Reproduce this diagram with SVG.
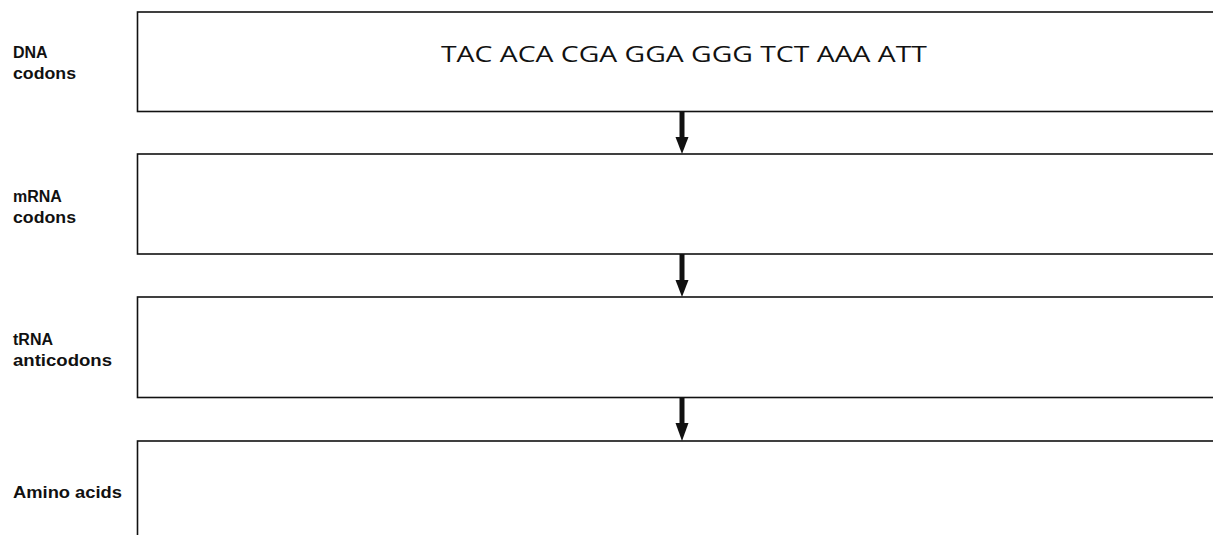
<svg xmlns="http://www.w3.org/2000/svg" width="1213" height="535" viewBox="0 0 1213 535">
<style>
.box{fill:#fff;stroke:#111;stroke-width:1.6}
.lbl{font-family:"Liberation Sans",Arial,sans-serif;font-weight:bold;font-size:16px;fill:#111}
.seq{font-family:"Open Sans","Liberation Sans",sans-serif;font-size:22px;fill:#111}
.arr{stroke:#111;stroke-width:5;fill:none}
.head{fill:#111}
</style>
<rect width="1213" height="535" fill="#fff"/>
<g id="dna">
<rect class="box" x="137.5" y="12" width="1090" height="99.5"/>
<text class="lbl" x="13" y="58">DNA</text>
<text class="lbl" x="13" y="79" textLength="63" lengthAdjust="spacingAndGlyphs">codons</text>
<text class="seq" x="441" y="62" textLength="486" lengthAdjust="spacingAndGlyphs">TAC ACA CGA GGA GGG TCT AAA ATT</text>
</g>
<g id="mrna">
<rect class="box" x="137.5" y="154" width="1090" height="100"/>
<text class="lbl" x="13" y="202">mRNA</text>
<text class="lbl" x="13" y="223" textLength="63" lengthAdjust="spacingAndGlyphs">codons</text>
</g>
<g id="trna">
<rect class="box" x="137.5" y="297" width="1090" height="100.5"/>
<text class="lbl" x="13" y="345">tRNA</text>
<text class="lbl" x="13" y="366" textLength="99" lengthAdjust="spacingAndGlyphs">anticodons</text>
</g>
<g id="amino">
<rect class="box" x="137.5" y="441" width="1090" height="120"/>
<text class="lbl" x="13" y="498" textLength="109" lengthAdjust="spacingAndGlyphs">Amino acids</text>
</g>
<g id="connectors">
<line class="arr" x1="682" y1="111" x2="682" y2="140"/>
<polygon class="head" points="675.5,137 688.5,137 682,154"/>
<line class="arr" x1="682" y1="254" x2="682" y2="283"/>
<polygon class="head" points="675.5,280 688.5,280 682,297"/>
<line class="arr" x1="682" y1="397" x2="682" y2="426"/>
<polygon class="head" points="675.5,423 688.5,423 682,441"/>
</g>
</svg>
